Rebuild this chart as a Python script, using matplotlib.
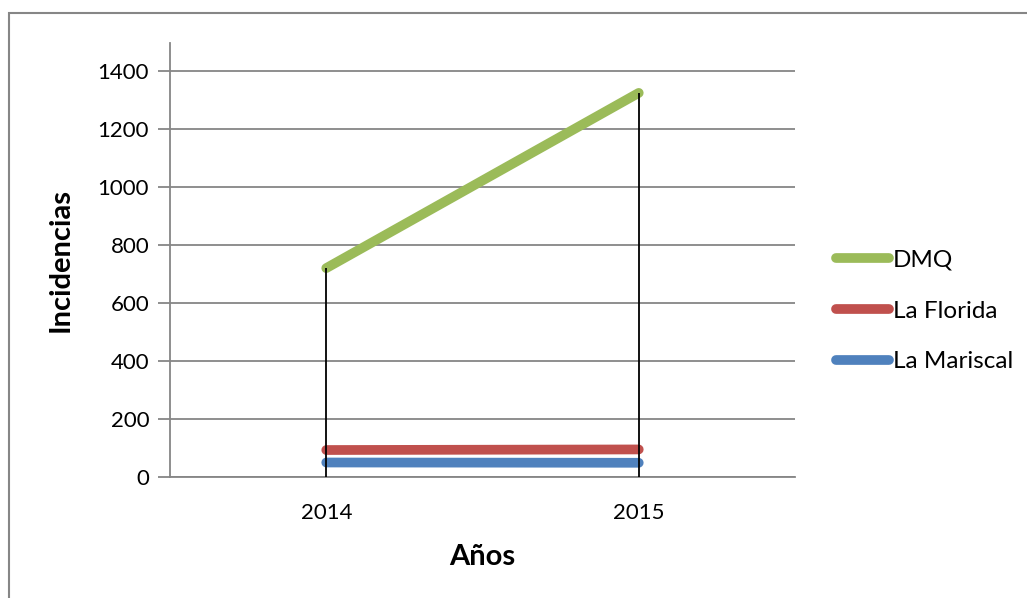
import matplotlib.pyplot as plt
from matplotlib.patches import Rectangle

# datos
years = ['2014', '2015']
dmq = [720, 1324]
la_florida = [93, 95]
la_mariscal = [50, 49]

series = [('DMQ', dmq, '#9BBB59'),
          ('La Florida', la_florida, '#C0504D'),
          ('La Mariscal', la_mariscal, '#4F81BD')]

plt.rcParams['font.family'] = ['Lato', 'DejaVu Sans']

fig = plt.figure(figsize=(10.27, 5.98), dpi=100)
ax = fig.add_axes([170 / 1027, 121 / 598, 625 / 1027, 434 / 598])

x = list(range(len(years)))
for name, vals, col in series:
    ax.plot(x, vals, color=col, lw=7, solid_capstyle='round', label=name, zorder=3)

# lineas de caida
tops = [max(v) for v in zip(dmq, la_florida, la_mariscal)]
ax.vlines(x, 0, tops, color='black', lw=1.3, zorder=4)

ax.set_xlim(-0.5, 1.5)
ax.set_ylim(0, 1496)
ax.set_yticks(range(0, 1401, 200))
ax.set_xticks(x)
ax.set_xticklabels(years)
ax.yaxis.grid(True, color='#868686', lw=1.3)
ax.set_axisbelow(True)

for s in ['top', 'right']:
    ax.spines[s].set_visible(False)
ax.spines['left'].set_color('#868686')
ax.spines['left'].set_linewidth(1.3)
ax.spines['bottom'].set_color('#868686')
ax.spines['bottom'].set_linewidth(1.3)
ax.tick_params(axis='y', length=9, width=1.3, color='#868686', labelsize=16, pad=6)
ax.tick_params(axis='x', length=0, labelsize=16, pad=19)

ax.set_ylabel('Incidencias', fontsize=21, fontweight='bold', labelpad=17)
ax.set_xlabel('Años', fontsize=21, fontweight='bold', labelpad=15)

ax.legend(loc='center left', bbox_to_anchor=(836 / 1027, 1 - 311 / 598),
          bbox_transform=fig.transFigure, frameon=False, fontsize=17.5,
          borderpad=0, borderaxespad=0,
          handlelength=2.2, handletextpad=0.15, labelspacing=1.22)

# borde del grafico
fig.patches.append(Rectangle((9 / 1027, -0.5), 2, 0.5 + 585 / 598,
                             transform=fig.transFigure, fill=False,
                             edgecolor='#868686', lw=1.5))

plt.savefig('out.png', dpi=100)
